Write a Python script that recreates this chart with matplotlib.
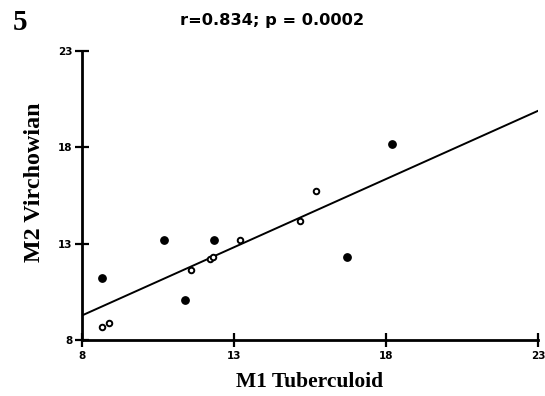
import numpy as np
import matplotlib.pyplot as plt

# values (M1 tuberculoid vs M2 virchowian)
m1_open = [8.67, 8.9, 11.59, 12.21, 12.3, 13.2, 15.17, 15.7]
m2_open = [8.69, 8.87, 11.63, 12.23, 12.32, 13.18, 14.2, 15.74]
m1_filled = [8.67, 10.7, 11.39, 12.35, 16.71, 18.2]
m2_filled = [11.2, 13.18, 10.07, 13.18, 12.32, 18.19]

TITLE = "r=0.834; p = 0.0002"
TICKS = [8, 13, 18, 23]

plt.rcParams['font.family'] = ['Liberation Serif', 'DejaVu Serif']

fig = plt.figure(figsize=(5.45, 3.96), dpi=100)
ax = fig.add_axes([0.1505, 0.1414, 0.8365, 0.7296])

# least squares line over all points
x_all = np.array(m1_open + m1_filled)
y_all = np.array(m2_open + m2_filled)
slope, icpt = np.polyfit(x_all, y_all, 1)
xl = np.array([8, 23])
ax.plot(xl, icpt + slope * xl, color="black", lw=1.4, zorder=2)

ax.scatter(m1_open, m2_open, s=16, facecolor="white", edgecolor="black",
           linewidth=1.4, zorder=3, clip_on=False)
ax.scatter(m1_filled, m2_filled, s=28, color="black", zorder=3, clip_on=False)

ax.set_xlim(8, 23)
ax.set_ylim(8, 23)
ax.set_xticks(TICKS)
ax.set_yticks(TICKS)
for s in ("top", "right"):
    ax.spines[s].set_visible(False)
for s in ("left", "bottom"):
    ax.spines[s].set_linewidth(2.0)
ax.tick_params(direction="inout", length=10, width=1.6)
ax.tick_params(axis="y", pad=2)
ax.tick_params(axis="x", pad=3)
for lab in ax.get_xticklabels() + ax.get_yticklabels():
    lab.set_family("DejaVu Sans")
    lab.set_fontweight("bold")
    lab.set_fontsize(7.5)

ax.set_xlabel("M1 Tuberculoid", fontsize=15.5, fontweight="bold", labelpad=8)
fig.text(0.063, 0.539, "M2 Virchowian", rotation=90, ha="center", va="center",
         fontsize=17.3, fontweight="bold")
fig.text(0.5, 0.947, TITLE, ha="center", va="center", fontsize=11.7,
         fontweight="bold", family="DejaVu Sans")
fig.text(0.024, 0.944, "5", ha="left", va="center", fontsize=21, fontweight="bold")

fig.savefig("out.png", dpi=100)
